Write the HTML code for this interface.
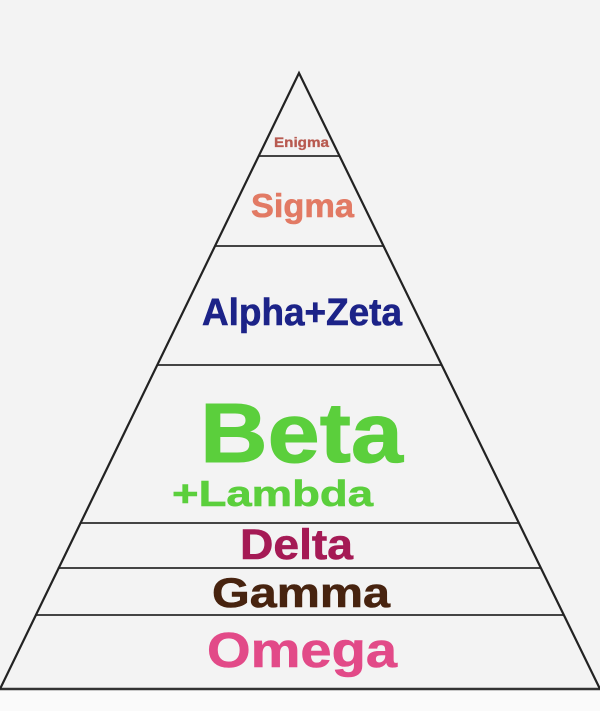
<!DOCTYPE html>
<html>
<head>
<meta charset="utf-8">
<style>
html,body{margin:0;padding:0;background:#f3f3f3;}
svg{display:block;}
text{font-family:"Liberation Sans",Arial,sans-serif;font-weight:bold;}
</style>
</head>
<body>
<svg width="600" height="711" viewBox="0 0 600 711" xmlns="http://www.w3.org/2000/svg">
<rect x="0" y="0" width="600" height="711" fill="#f3f3f3"/>
<rect x="0" y="690" width="600" height="21" fill="#fafafa"/>
<g stroke="#444" stroke-width="2">
<line x1="258.6" y1="156" x2="339.4" y2="156"/>
<line x1="214.7" y1="246" x2="383.3" y2="246"/>
<line x1="156.8" y1="365" x2="441.2" y2="365"/>
<line x1="79.8" y1="523" x2="518.2" y2="523"/>
<line x1="57.9" y1="568" x2="540.1" y2="568"/>
<line x1="35" y1="615" x2="563" y2="615"/>
</g>
<line x1="0" y1="689" x2="600" y2="689" stroke="#333" stroke-width="2.5"/>
<polyline points="0,689 299,73 600,689" fill="none" stroke="#222" stroke-width="2.2" stroke-linejoin="miter"/>
<text x="274" y="147" font-size="14" fill="#b85a50" stroke="#b85a50" stroke-width="0.3" textLength="55" lengthAdjust="spacingAndGlyphs">Enigma</text>
<text x="251" y="217" font-size="33" fill="#e27a64" stroke="#e27a64" stroke-width="0.6" textLength="103" lengthAdjust="spacingAndGlyphs">Sigma</text>
<text x="202" y="325" font-size="38" fill="#1c2388" stroke="#1c2388" stroke-width="0.6" textLength="200" lengthAdjust="spacingAndGlyphs">Alpha+Zeta</text>
<text x="200" y="462" font-size="84" fill="#5bcf3c" stroke="#5bcf3c" stroke-width="1" textLength="203" lengthAdjust="spacingAndGlyphs">Beta</text>
<text x="172" y="506" font-size="36" fill="#5bcf3c" stroke="#5bcf3c" stroke-width="0.6" textLength="201" lengthAdjust="spacingAndGlyphs">+Lambda</text>
<text x="240" y="559" font-size="43" fill="#a51a55" stroke="#a51a55" stroke-width="0.6" textLength="113" lengthAdjust="spacingAndGlyphs">Delta</text>
<text x="212" y="607" font-size="42" fill="#47230f" stroke="#47230f" stroke-width="0.6" textLength="178" lengthAdjust="spacingAndGlyphs">Gamma</text>
<text x="207" y="667" font-size="49" fill="#e24a88" stroke="#e24a88" stroke-width="0.6" textLength="190" lengthAdjust="spacingAndGlyphs">Omega</text>
</svg>
</body>
</html>
